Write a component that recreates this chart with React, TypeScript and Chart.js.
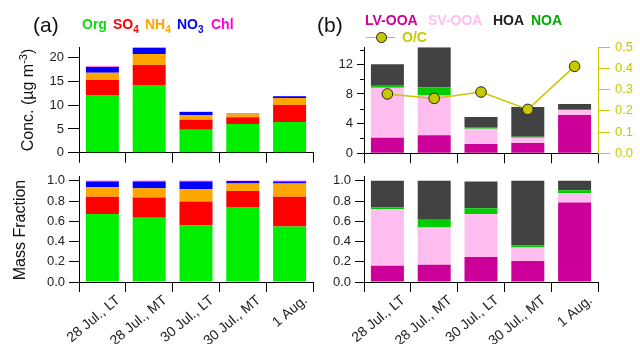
import React, { useEffect, useRef } from 'react';
import { Chart, registerables } from 'chart.js';
Chart.register(...registerables);

// ---------- data ----------
const categories = ['28 Jul., LT', '28 Jul., MT', '30 Jul., LT', '30 Jul., MT', '1 Aug.'];

// (a) top: species concentrations (µg m-3), stacked segments
const orgConc = [12.15, 14.25, 4.85, 6.04, 6.46];
const so4Conc = [3.15, 4.2, 2.1, 1.4, 3.58];
const nh4Conc = [1.55, 2.35, 1.0, 0.63, 1.46];
const no3Conc = [1.2, 1.25, 0.62, 0.15, 0.38];
const chlConc = [0.08, 0.12, 0.05, 0.02, 0.08];

// (a) bottom: species mass fractions
const orgFrac = [0.672, 0.634, 0.558, 0.741, 0.549];
const so4Frac = [0.17, 0.201, 0.237, 0.158, 0.293];
const nh4Frac = [0.095, 0.092, 0.123, 0.075, 0.132];
const no3Frac = [0.053, 0.063, 0.072, 0.024, 0.016];
const chlFrac = [0.01, 0.01, 0.01, 0.002, 0.01];

// (b) top: PMF factor concentrations
const lvConc = [2.1, 2.45, 1.25, 1.39, 5.16];
const svConc = [6.74, 5.35, 2.07, 0.71, 0.68];
const noaConc = [0.27, 1.1, 0.22, 0.14, 0.13];
const hoaConc = [2.92, 5.4, 1.35, 4.0, 0.67];
const ocRatio = [0.28, 0.259, 0.289, 0.207, 0.41];

// (b) bottom: PMF factor fractions
const lvFrac = [0.16, 0.17, 0.246, 0.208, 0.785];
const svFrac = [0.56, 0.37, 0.426, 0.132, 0.095];
const noaFrac = [0.02, 0.075, 0.056, 0.02, 0.028];
const hoaFrac = [0.26, 0.385, 0.265, 0.64, 0.092];

// axis ticks
const concTickStep = 5;
const pmfTickStep = 4;
const pmfMinorTicks = [2, 6, 10, 14];
const fracTickStep = 0.2;
const ocTickStep = 0.1;

// ---------- styles ----------
const FONT = "'Liberation Sans', Arial, Helvetica, sans-serif";
const C_ORG = '#00ee00';
const C_SO4 = '#ff0000';
const C_NH4 = '#ffa500';
const C_NO3 = '#0000ff';
const C_CHL = '#ff00dd';
const C_LV = '#cc0099';
const C_SV = '#ffbdf0';
const C_HOA = '#424242';
const C_NOA = '#00cc00';
const C_OC = '#c8c800';
const TICK_COLOR = '#222';

function bar(label: string, data: number[], color: string) {
  return {
    type: 'bar' as const,
    label,
    data,
    backgroundColor: color,
    borderWidth: 0,
    categoryPercentage: 1,
    barPercentage: 0.705,
    order: 1,
  };
}

function xScale(height: number, showLabels: boolean) {
  return {
    type: 'category',
    stacked: true,
    offset: true,
    grid: { offset: true, drawOnChartArea: false, drawTicks: true, tickLength: 10, color: '#000', lineWidth: 1 },
    border: { display: true, color: '#000', width: 1 },
    ticks: {
      display: showLabels,
      minRotation: 40,
      maxRotation: 40,
      autoSkip: false,
      padding: 0,
      labelOffset: 16,
      color: TICK_COLOR,
      font: { family: FONT, size: 14 },
    },
    afterFit: (s: any) => { s.height = height; },
  };
}

function yScale(max: number, step: number, width: number, tickLen: number, digits: number) {
  return {
    type: 'linear',
    stacked: true,
    min: 0,
    max,
    grid: { drawOnChartArea: false, drawTicks: true, tickLength: tickLen, color: '#000', lineWidth: 1 },
    border: { display: true, color: '#000', width: 1 },
    ticks: {
      stepSize: step,
      includeBounds: false,
      padding: 4,
      color: TICK_COLOR,
      font: { family: FONT, size: 13 },
      callback: (v: any) => Number(v).toFixed(digits),
    },
    afterFit: (s: any) => { s.width = width; },
  };
}

const minorTickPlugin = {
  id: 'minorTicks',
  afterDraw(chart: any) {
    const s = chart.scales.y;
    const ctx = chart.ctx;
    ctx.save();
    ctx.strokeStyle = '#000';
    ctx.lineWidth = 1;
    for (const v of pmfMinorTicks) {
      const y = Math.round(s.getPixelForValue(v)) + 0.5;
      ctx.beginPath();
      ctx.moveTo(s.right - 4, y);
      ctx.lineTo(s.right, y);
      ctx.stroke();
    }
    ctx.restore();
  },
};

const baseOptions = {
  responsive: false,
  animation: false,
  devicePixelRatio: 1,
  plugins: { legend: { display: false }, tooltip: { enabled: false }, title: { display: false } },
};

function configATop() {
  return {
    type: 'bar',
    data: {
      labels: categories,
      datasets: [
        bar('Org', orgConc, C_ORG),
        bar('SO4', so4Conc, C_SO4),
        bar('NH4', nh4Conc, C_NH4),
        bar('NO3', no3Conc, C_NO3),
        bar('Chl', chlConc, C_CHL),
      ],
    },
    options: {
      ...baseOptions,
      layout: { padding: { top: 47, right: 7, left: 0, bottom: 0 } },
      scales: { x: xScale(17.3, false), y: yScale(22.25, concTickStep, 79, 11, 0) },
    },
  };
}

function configABottom() {
  return {
    type: 'bar',
    data: {
      labels: categories,
      datasets: [
        bar('Org', orgFrac, C_ORG),
        bar('SO4', so4Frac, C_SO4),
        bar('NH4', nh4Frac, C_NH4),
        bar('NO3', no3Frac, C_NO3),
        bar('Chl', chlFrac, C_CHL),
      ],
    },
    options: {
      ...baseOptions,
      layout: { padding: { top: 7, right: 7, left: 0, bottom: 0 } },
      scales: { x: xScale(62, true), y: yScale(1.04, fracTickStep, 79, 10, 1) },
    },
  };
}

function configBTop() {
  return {
    type: 'bar',
    data: {
      labels: categories,
      datasets: [
        {
          type: 'line',
          label: 'O/C',
          data: ocRatio,
          yAxisID: 'y2',
          borderColor: C_OC,
          borderWidth: 1.5,
          backgroundColor: C_OC,
          pointBackgroundColor: C_OC,
          pointBorderColor: '#222',
          pointBorderWidth: 1,
          pointRadius: 5.3,
          tension: 0,
          order: 0,
        },
        bar('LV-OOA', lvConc, C_LV),
        bar('SV-OOA', svConc, C_SV),
        bar('NOA', noaConc, C_NOA),
        bar('HOA', hoaConc, C_HOA),
      ],
    },
    options: {
      ...baseOptions,
      layout: { padding: { top: 47.3, right: 0, left: 0, bottom: 0 } },
      scales: {
        x: xScale(16.7, false),
        y: yScale(14.3, pmfTickStep, 44, 7, 0),
        y2: {
          type: 'linear',
          position: 'right',
          stacked: false,
          min: 0,
          max: 0.5,
          grid: { drawOnChartArea: false, drawTicks: true, tickLength: 12, color: C_OC, lineWidth: 1 },
          border: { display: true, color: C_OC, width: 1 },
          ticks: {
            stepSize: ocTickStep,
            padding: 5,
            color: C_OC,
            font: { family: FONT, size: 13 },
            callback: (v: any) => Number(v).toFixed(1),
          },
          afterFit: (s: any) => { s.width = 42; },
        },
      },
    },
    plugins: [minorTickPlugin],
  };
}

function configBBottom() {
  return {
    type: 'bar',
    data: {
      labels: categories,
      datasets: [
        bar('LV-OOA', lvFrac, C_LV),
        bar('SV-OOA', svFrac, C_SV),
        bar('NOA', noaFrac, C_NOA),
        bar('HOA', hoaFrac, C_HOA),
      ],
    },
    options: {
      ...baseOptions,
      layout: { padding: { top: 7, right: 42, left: 0, bottom: 0 } },
      scales: { x: xScale(62, true), y: yScale(1.04, fracTickStep, 44, 9, 1) },
    },
  };
}

function ChartBox({ left, top, width, height, config }: any) {
  const ref = useRef<HTMLCanvasElement>(null);
  useEffect(() => {
    const chart = new Chart(ref.current as HTMLCanvasElement, config() as any);
    return () => chart.destroy();
  }, []);
  return (
    <div style={{ position: 'absolute', left, top, width, height }}>
      <canvas ref={ref} width={width} height={height} style={{ width, height, display: 'block' }} />
    </div>
  );
}

const txt = (extra: any) => ({
  position: 'absolute' as const,
  fontFamily: FONT,
  whiteSpace: 'nowrap' as const,
  ...extra,
});

const legendItem = (x: number, color: string, main: string, sub?: string) => (
  <span key={main} style={txt({ left: x, top: 17, fontSize: 14, lineHeight: '14px', fontWeight: 'bold', color })}>
    {main}
    {sub ? <span style={{ fontSize: 10, position: 'relative', top: 4 }}>{sub}</span> : null}
  </span>
);

export default function App() {
  return (
    <div style={{ position: 'absolute', left: 0, top: 0, width: 640, height: 344, background: '#fff', overflow: 'hidden' }}>
      <ChartBox left={0} top={0} width={320} height={170} config={configATop} />
      <ChartBox left={0} top={165} width={320} height={179} config={configABottom} />
      <ChartBox left={320} top={0} width={320} height={170} config={configBTop} />
      <ChartBox left={320} top={165} width={320} height={179} config={configBBottom} />

      {/* panel letters */}
      <span style={txt({ left: 33, top: 14, fontSize: 21, lineHeight: '21px', color: '#111' })}>(a)</span>
      <span style={txt({ left: 317, top: 14, fontSize: 21, lineHeight: '21px', color: '#111' })}>(b)</span>

      {/* legend (a) */}
      {legendItem(82, '#11dd11', 'Org')}
      {legendItem(113, C_SO4, 'SO', '4')}
      {legendItem(145, C_NH4, 'NH', '4')}
      {legendItem(177, C_NO3, 'NO', '3')}
      {legendItem(211, C_CHL, 'Chl')}

      {/* legend (b) */}
      <span style={txt({ left: 365, top: 13, fontSize: 14, lineHeight: '14px', fontWeight: 'bold', color: C_LV })}>LV-OOA</span>
      <span style={txt({ left: 428, top: 13, fontSize: 14, lineHeight: '14px', fontWeight: 'bold', color: C_SV })}>SV-OOA</span>
      <span style={txt({ left: 493, top: 13, fontSize: 14, lineHeight: '14px', fontWeight: 'bold', color: '#222' })}>HOA</span>
      <span style={txt({ left: 531, top: 13, fontSize: 14, lineHeight: '14px', fontWeight: 'bold', color: '#00aa00' })}>NOA</span>
      <div style={{ position: 'absolute', left: 366, top: 36.5, width: 29, height: 1.5, background: C_OC }} />
      <div style={{ position: 'absolute', left: 375.5, top: 31.8, width: 9.5, height: 9.5, borderRadius: '50%', background: C_OC, border: '1px solid #222' }} />
      <span style={txt({ left: 402, top: 30, fontSize: 14, lineHeight: '14px', fontWeight: 'bold', color: C_OC })}>O/C</span>

      {/* y-axis titles */}
      <div style={txt({ left: 27.5 - 80, top: 100 - 10, width: 160, height: 20, lineHeight: '20px', fontSize: 16, textAlign: 'center', color: '#111', transform: 'rotate(-90deg)' })}>
        Conc. (µg m<sup style={{ fontSize: 11, lineHeight: 0 }}>-3</sup>)
      </div>
      <div style={txt({ left: 19.5 - 80, top: 229.5 - 10, width: 160, height: 20, lineHeight: '20px', fontSize: 16, textAlign: 'center', color: '#111', transform: 'rotate(-90deg)' })}>
        Mass Fraction
      </div>
    </div>
  );
}
